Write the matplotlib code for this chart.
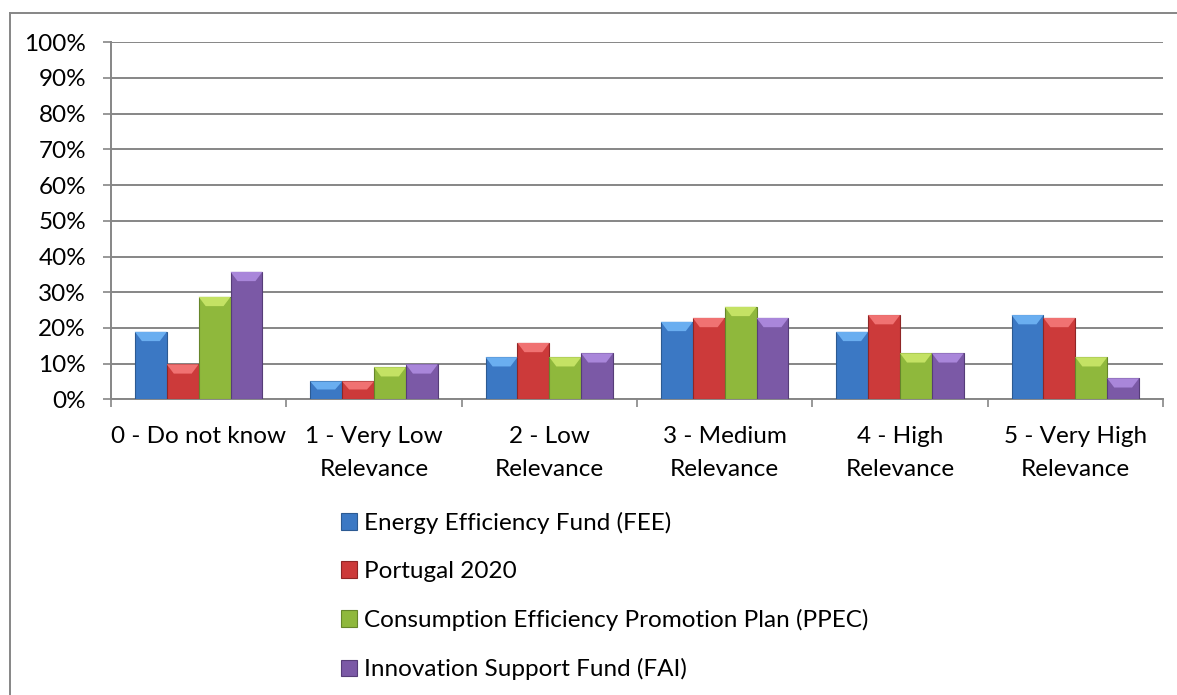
import matplotlib.pyplot as plt
import numpy as np
from matplotlib.patches import Polygon

categories = ["0 - Do not know", "1 - Very Low\nRelevance", "2 - Low\nRelevance",
              "3 - Medium\nRelevance", "4 - High\nRelevance", "5 - Very High\nRelevance"]
series_names = ["Energy Efficiency Fund (FEE)", "Portugal 2020",
                "Consumption Efficiency Promotion Plan (PPEC)", "Innovation Support Fund (FAI)"]
fee = [18.9, 5.0, 11.8, 21.7, 18.9, 23.6]
portugal2020 = [9.8, 5.0, 15.8, 22.8, 23.6, 22.8]
ppec = [28.7, 9.0, 11.8, 25.9, 12.9, 11.8]
fai = [35.7, 9.8, 12.9, 22.8, 12.9, 5.9]

colors = ["#3b78c4", "#cc3a3a", "#8fb83c", "#7b59a6"]
tops = ["#6aaef0", "#f07272", "#c4e264", "#a986da"]
edges = ["#2c5a92", "#8f2626", "#66862a", "#563d78"]

plt.rcParams['font.family'] = ['Lato', 'DejaVu Sans']
FS = 17.5

fig = plt.figure(figsize=(11.77, 6.95), dpi=100)
ax = fig.add_axes([111 / 1177, 1 - 399.3 / 695, (1163 - 111) / 1177, 357 / 695])

x = np.arange(len(categories))
width = 1 / 5.5
values = [fee, portugal2020, ppec, fai]

handles = []
for i, vals in enumerate(values):
    offset = (i - 1.5) * width
    rects = ax.bar(x + offset, vals, width, color=colors[i], edgecolor=edges[i],
                   linewidth=0.8, zorder=3, label=series_names[i])
    handles.append(rects)
    # bevel on top of each bar
    for r in rects:
        bx, bw, bh = r.get_x(), r.get_width(), r.get_height()
        d = min(2.6, bh * 0.45)
        inset = bw * 0.22
        poly = Polygon([[bx, bh], [bx + bw, bh], [bx + bw - inset, bh - d], [bx + inset, bh - d]],
                       closed=True, facecolor=tops[i], edgecolor='none', zorder=4)
        ax.add_patch(poly)

ax.set_xlim(-0.5, len(categories) - 0.5)
ax.set_ylim(0, 100)
ax.set_yticks(np.arange(0, 101, 10))
ax.set_yticklabels([f"{v}%" for v in range(0, 101, 10)])
ax.set_xticks(np.arange(len(categories) + 1) - 0.5, minor=False)
ax.set_xticklabels([])
ax.set_xticks(x, minor=True)
ax.set_xticklabels(categories, minor=True, linespacing=1.7)
ax.tick_params(axis='x', which='minor', length=0, pad=19, labelsize=FS)
ax.tick_params(axis='x', which='major', length=6, width=1.2, color='#868686')
ax.tick_params(axis='y', length=6, width=1.2, color='#868686', pad=12, labelsize=FS)

ax.grid(axis='y', color='#868686', linewidth=1.4, zorder=0)
for s in ['top', 'right']:
    ax.spines[s].set_visible(False)
for s in ['left', 'bottom']:
    ax.spines[s].set_color('#868686')
    ax.spines[s].set_linewidth(1.4)

fig.legend(handles=handles, labels=series_names, loc='upper left',
           bbox_to_anchor=(341 / 1177, 1 - 512 / 695), frameon=False, fontsize=FS,
           handlelength=0.65, handleheight=0.65, handletextpad=0.3,
           labelspacing=1.11, borderpad=0, borderaxespad=0)

# chart border (top and left visible)
fig.add_artist(plt.Line2D([10 / 1177, 1.0], [1 - 13 / 695, 1 - 13 / 695],
                          color='#868686', linewidth=1.4))
fig.add_artist(plt.Line2D([10 / 1177, 10 / 1177], [0, 1 - 13 / 695],
                          color='#868686', linewidth=1.4))

plt.savefig("out.png", dpi=100)
